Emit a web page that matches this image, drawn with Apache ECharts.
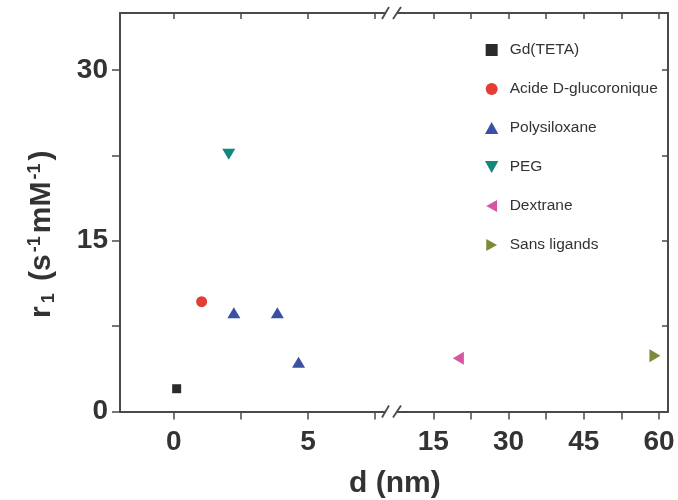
<!DOCTYPE html>
<html>
<head>
<meta charset="utf-8">
<script src="https://cdn.jsdelivr.net/npm/echarts@6/dist/echarts.min.js"></script>
<style>html,body{margin:0;padding:0;background:#fff;}#c{width:678px;height:500px;}</style>
</head>
<body>
<div id="c"></div>
<script>
// ---- data ----
const seriesNames = ['Gd(TETA)', 'Acide D-glucoronique', 'Polysiloxane', 'PEG', 'Dextrane', 'Sans ligands'];
const gdTeta = [[0.11, 2.0]];
const acideGluco = [[1.04, 9.65]];
const polysiloxane = [[2.24, 8.68], [3.86, 8.68], [4.65, 4.32]];
const peg = [[2.05, 22.6]];
const dextrane = [[20.0, 4.68]];
const sansLigands = [[59.2, 4.9]];
const leftTicks = [0, 2.5, 5, 7.5];
const leftLabels = [0, 5];
const rightTicks = [15, 22.5, 30, 37.5, 45, 52.5, 60];
const rightLabels = [15, 30, 45, 60];
const yTicks = [0, 7.5, 15, 22.5, 30];
const yLabels = [0, 15, 30];

// ---- layout ----
const plotLeft = 120, plotRight = 668, plotTop = 13, plotBottom = 411.5, breakX = 392;
const FONT = '"Liberation Sans", Arial, sans-serif';
const AX = '#4a4a4a';
const TXT = '#333';

const chart = echarts.init(document.getElementById('c'), null, {renderer: 'canvas'});

function xAxisDef(gridIndex, min, max, ticks, labels, pos) {
  const bottom = pos === 'bottom';
  return {
    type: 'value', gridIndex, min, max, position: pos,
    axisLine: {show: true, onZero: false, lineStyle: {color: AX, width: 2}},
    axisTick: {show: true, inside: !bottom, length: bottom ? 8 : 6, customValues: ticks, lineStyle: {color: AX, width: 1.5}},
    axisLabel: {show: bottom, customValues: labels, margin: 17, fontSize: 28, fontWeight: 'bold', fontFamily: FONT, color: TXT},
    splitLine: {show: false}
  };
}
function yAxisDef(gridIndex, pos, withName) {
  const left = pos === 'left';
  const ax = {
    type: 'value', gridIndex, min: 0, max: 35, position: pos,
    axisLine: {show: true, onZero: false, lineStyle: {color: AX, width: 2}},
    axisTick: {show: true, inside: !left, length: left ? 8 : 6, customValues: yTicks, lineStyle: {color: AX, width: 1.5}},
    axisLabel: {show: left, customValues: yLabels, margin: 12, fontSize: 28, fontWeight: 'bold', fontFamily: FONT, color: TXT},
    splitLine: {show: false}
  };
  if (withName) {
    ax.name = '{b|r}{sub|1}{b| (s}{sup|-1}{b|mM}{sup|-1}{b|)}';
    ax.nameLocation = 'middle';
    ax.nameRotate = 90;
    ax.nameGap = 62;
    ax.nameTextStyle = {
      fontFamily: FONT, fontWeight: 'bold', fontSize: 30, color: TXT,
      padding: [0, 44, 0, 0],
      rich: {
        b: {fontFamily: FONT, fontWeight: 'bold', fontSize: 30, color: TXT},
        sub: {fontFamily: FONT, fontWeight: 'bold', fontSize: 18, color: TXT, verticalAlign: 'bottom', padding: [14, 4, 0, 3]},
        sup: {fontFamily: FONT, fontWeight: 'bold', fontSize: 18, color: TXT, verticalAlign: 'top', padding: [0, 3, 12, 2]}
      }
    };
  }
  return ax;
}

const square = 'path://M0,0 L10,0 L10,10 L0,10 Z';
const triUp = 'path://M5,0 L10,9 L0,9 Z';
const triDown = 'path://M0,0 L10,0 L5,9 Z';
const triLeft = 'path://M0,5 L9,0 L9,10 Z';
const triRight = 'path://M0,0 L9,5 L0,10 Z';

function sc(name, data, gridSide, symbol, size, color) {
  return {
    name, type: 'scatter', data,
    xAxisIndex: gridSide === 0 ? 0 : 2, yAxisIndex: gridSide === 0 ? 0 : 1,
    symbol, symbolSize: size, itemStyle: {color, opacity: 1},
    emphasis: {disabled: true}, z: 5
  };
}

const option = {
  backgroundColor: '#fff',
  animation: false,
  grid: [
    {left: plotLeft, top: plotTop, width: breakX - plotLeft, height: plotBottom - plotTop, containLabel: false},
    {left: breakX, top: plotTop, width: plotRight - breakX, height: plotBottom - plotTop, containLabel: false}
  ],
  xAxis: [
    xAxisDef(0, -2, 8.13, leftTicks, leftLabels, 'bottom'),
    xAxisDef(0, -2, 8.13, leftTicks, leftLabels, 'top'),
    xAxisDef(1, 6.77, 61.8, rightTicks, rightLabels, 'bottom'),
    xAxisDef(1, 6.77, 61.8, rightTicks, rightLabels, 'top')
  ],
  yAxis: [
    yAxisDef(0, 'left', true),
    yAxisDef(1, 'right', false)
  ],
  legend: {
    orient: 'vertical', left: 480, top: 37,
    itemWidth: 26, itemHeight: 12, itemGap: 23,
    data: seriesNames.map((n, i) => i === 0 ? {name: n, icon: square} : n),
    textStyle: {fontFamily: FONT, fontSize: 15.5, color: TXT},
    selectedMode: false
  },
  series: [
    sc(seriesNames[0], gdTeta, 0, square, [9, 9], '#2b2b2b'),
    sc(seriesNames[1], acideGluco, 0, 'circle', 11, '#e63c36'),
    sc(seriesNames[2], polysiloxane, 0, triUp, [13, 11], '#3b4fa3'),
    sc(seriesNames[3], peg, 0, triDown, [13, 11], '#12877b'),
    sc(seriesNames[4], dextrane, 1, triLeft, [11, 13], '#d6579f'),
    sc(seriesNames[5], sansLigands, 1, triRight, [11, 13], '#7c8a3b')
  ],
  graphic: [
    {type: 'text', left: 349, top: 469, style: {text: 'd (nm)', font: 'bold 30px ' + FONT, fill: TXT}},
    // axis-break marks on bottom and top axes
    {type: 'rect', shape: {x: breakX - 6, y: plotBottom - 3, width: 11, height: 6}, style: {fill: '#fff'}, z: 100},
    {type: 'line', shape: {x1: breakX - 10, y1: plotBottom + 6, x2: breakX - 3, y2: plotBottom - 6}, style: {stroke: AX, lineWidth: 1.8}, z: 101},
    {type: 'line', shape: {x1: breakX + 1, y1: plotBottom + 6, x2: breakX + 9, y2: plotBottom - 6}, style: {stroke: AX, lineWidth: 1.8}, z: 101},
    {type: 'rect', shape: {x: breakX - 6, y: plotTop - 3, width: 11, height: 6}, style: {fill: '#fff'}, z: 100},
    {type: 'line', shape: {x1: breakX - 10, y1: plotTop + 6, x2: breakX - 3, y2: plotTop - 6}, style: {stroke: AX, lineWidth: 1.8}, z: 101},
    {type: 'line', shape: {x1: breakX + 1, y1: plotTop + 6, x2: breakX + 9, y2: plotTop - 6}, style: {stroke: AX, lineWidth: 1.8}, z: 101}
  ]
};
chart.setOption(option);
</script>
</body>
</html>
